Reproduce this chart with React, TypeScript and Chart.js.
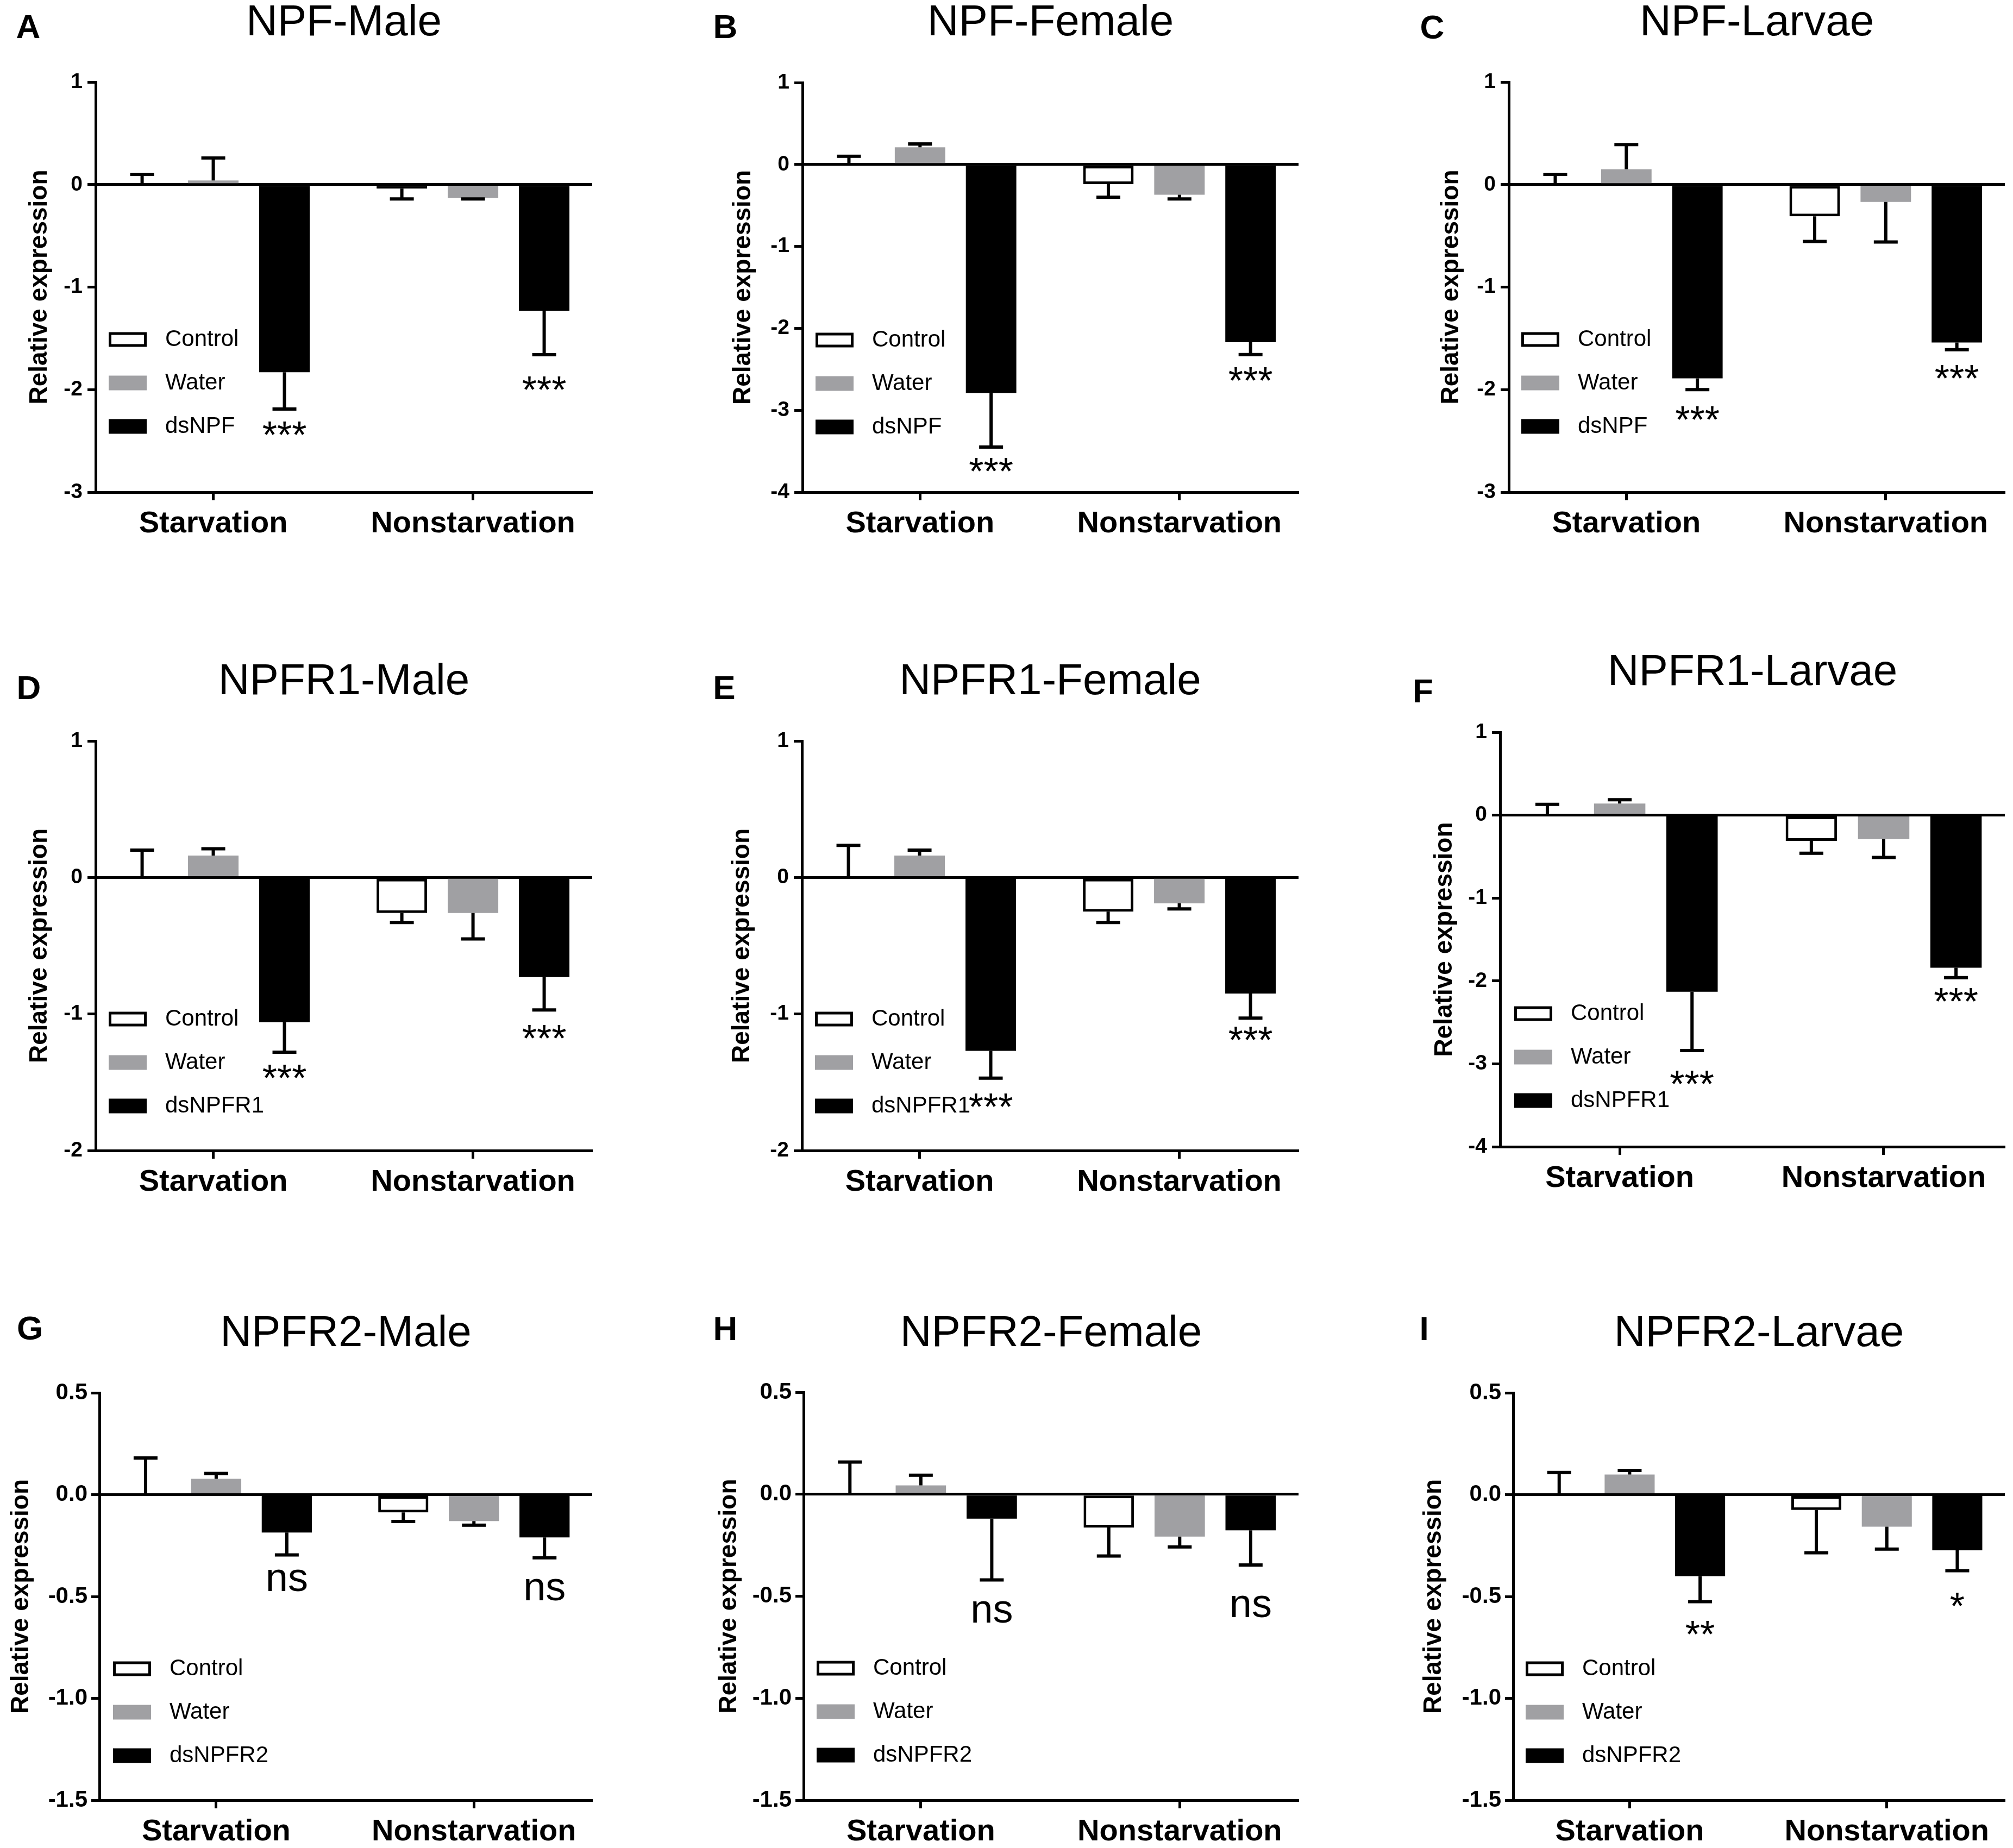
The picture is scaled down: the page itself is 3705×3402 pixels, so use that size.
import React, { useEffect, useRef } from 'react';
import { Chart, registerables, Plugin } from 'chart.js';

Chart.register(...registerables);

const FONT = "'Liberation Sans', Arial, Helvetica, sans-serif";
const GREY = '#a0a0a3';
const PANEL_W = 1100;

const categories = ['Starvation', 'Nonstarvation'];

// rows: Control, Water, dsRNA; columns: Starvation, Nonstarvation
const npfMaleMeans = [[0, -0.04], [0.04, -0.13], [-1.83, -1.23]];
const npfMaleErrors = [[0.1, 0.1], [0.22, 0.01], [0.36, 0.43]];
const npfMaleSig = ['***', '***'];
const npfMaleSigAt = [-2.47, -2.03];

const npfFemaleMeans = [[0, -0.24], [0.21, -0.37], [-2.79, -2.17]];
const npfFemaleErrors = [[0.1, 0.16], [0.04, 0.05], [0.66, 0.15]];
const npfFemaleSig = ['***', '***'];
const npfFemaleSigAt = [-3.78, -2.67];

const npfLarvaeMeans = [[0, -0.31], [0.15, -0.17], [-1.89, -1.54]];
const npfLarvaeErrors = [[0.1, 0.245], [0.24, 0.39], [0.11, 0.07]];
const npfLarvaeSig = ['***', '***'];
const npfLarvaeSigAt = [-2.32, -1.92];

const r1MaleMeans = [[0, -0.26], [0.16, -0.26], [-1.06, -0.73]];
const r1MaleErrors = [[0.2, 0.07], [0.05, 0.19], [0.22, 0.24]];
const r1MaleSig = ['***', '***'];
const r1MaleSigAt = [-1.49, -1.2];

const r1FemaleMeans = [[0, -0.25], [0.16, -0.19], [-1.27, -0.85]];
const r1FemaleErrors = [[0.235, 0.08], [0.04, 0.04], [0.2, 0.18]];
const r1FemaleSig = ['***', '***'];
const r1FemaleSigAt = [-1.7, -1.21];

const r1LarvaeMeans = [[0, -0.31], [0.14, -0.29], [-2.13, -1.84]];
const r1LarvaeErrors = [[0.13, 0.15], [0.045, 0.22], [0.71, 0.12]];
const r1LarvaeSig = ['***', '***'];
const r1LarvaeSigAt = [-3.28, -2.28];

const r2MaleMeans = [[0, -0.087], [0.078, -0.13], [-0.186, -0.21]];
const r2MaleErrors = [[0.18, 0.045], [0.026, 0.02], [0.11, 0.1]];
const r2MaleSig = ['ns', 'ns'];
const r2MaleSigAt = [-0.42, -0.465];

const r2FemaleMeans = [[0, -0.163], [0.043, -0.208], [-0.12, -0.177]];
const r2FemaleErrors = [[0.158, 0.14], [0.05, 0.05], [0.3, 0.17]];
const r2FemaleSig = ['ns', 'ns'];
const r2FemaleSigAt = [-0.575, -0.547];

const r2LarvaeMeans = [[0, -0.075], [0.099, -0.157], [-0.4, -0.273]];
const r2LarvaeErrors = [[0.109, 0.21], [0.02, 0.11], [0.125, 0.1]];
const r2LarvaeSig = ['**', '*'];
const r2LarvaeSigAt = [-0.7, -0.56];

const npfSeries = ['Control', 'Water', 'dsNPF'];
const r1Series = ['Control', 'Water', 'dsNPFR1'];
const r2Series = ['Control', 'Water', 'dsNPFR2'];

const yTicksBig = { min: -3, max: 1, step: 1 };
const yTicksFour = { min: -4, max: 1, step: 1 };
const yTicksTwo = { min: -2, max: 1, step: 1 };
const yTicksHalf = { min: -1.5, max: 0.5, step: 0.5 };

interface PanelSpec {
    letter: string;
    title: string;
    series: string[];
    means: number[][];
    errors: number[][];
    sig: string[];
    sigAt: number[];
    range: { min: number; max: number; step: number };
    left: number;
    top: number;
    height: number;
    axisX: number;
    plotTop: number;
    plotBottom: number;
    yTitleX: number;
    legendX: number;
    legendTop: number;
    letterX: number;
    letterY: number;
}

const panels: PanelSpec[] = [
    { letter: 'A', title: 'NPF-Male', series: npfSeries, means: npfMaleMeans, errors: npfMaleErrors, sig: npfMaleSig, sigAt: npfMaleSigAt, range: yTicksBig,
      left: 0, top: 0, height: 1010, axisX: 176, plotTop: 151, plotBottom: 906, yTitleX: 73, legendX: 24, legendTop: 474, letterX: 52, letterY: 53 },
    { letter: 'B', title: 'NPF-Female', series: npfSeries, means: npfFemaleMeans, errors: npfFemaleErrors, sig: npfFemaleSig, sigAt: npfFemaleSigAt, range: yTicksFour,
      left: 1300, top: 0, height: 1010, axisX: 177, plotTop: 152, plotBottom: 906, yTitleX: 68, legendX: 24, legendTop: 474, letterX: 35, letterY: 53 },
    { letter: 'C', title: 'NPF-Larvae', series: npfSeries, means: npfLarvaeMeans, errors: npfLarvaeErrors, sig: npfLarvaeSig, sigAt: npfLarvaeSigAt, range: yTicksBig,
      left: 2600, top: 0, height: 1010, axisX: 177, plotTop: 151, plotBottom: 906, yTitleX: 71, legendX: 23, legendTop: 474, letterX: 36, letterY: 54 },
    { letter: 'D', title: 'NPFR1-Male', series: r1Series, means: r1MaleMeans, errors: r1MaleErrors, sig: r1MaleSig, sigAt: r1MaleSigAt, range: yTicksTwo,
      left: 0, top: 1213, height: 1010, axisX: 176, plotTop: 151, plotBottom: 905, yTitleX: 73, legendX: 24, legendTop: 512, letterX: 53, letterY: 57 },
    { letter: 'E', title: 'NPFR1-Female', series: r1Series, means: r1FemaleMeans, errors: r1FemaleErrors, sig: r1FemaleSig, sigAt: r1FemaleSigAt, range: yTicksTwo,
      left: 1300, top: 1213, height: 1010, axisX: 176, plotTop: 151, plotBottom: 905, yTitleX: 66, legendX: 24, legendTop: 512, letterX: 33, letterY: 57 },
    { letter: 'F', title: 'NPFR1-Larvae', series: r1Series, means: r1LarvaeMeans, errors: r1LarvaeErrors, sig: r1LarvaeSig, sigAt: r1LarvaeSigAt, range: yTicksFour,
      left: 2600, top: 1196, height: 1030, axisX: 161, plotTop: 152, plotBottom: 915, yTitleX: 59, legendX: 26, legendTop: 518, letterX: 19, letterY: 80 },
    { letter: 'G', title: 'NPFR2-Male', series: r2Series, means: r2MaleMeans, errors: r2MaleErrors, sig: r2MaleSig, sigAt: r2MaleSigAt, range: yTicksHalf,
      left: 0, top: 2413, height: 989, axisX: 183, plotTop: 151, plotBottom: 901, yTitleX: 39, legendX: 25, legendTop: 508, letterX: 55, letterY: 36 },
    { letter: 'H', title: 'NPFR2-Female', series: r2Series, means: r2FemaleMeans, errors: r2FemaleErrors, sig: r2FemaleSig, sigAt: r2FemaleSigAt, range: yTicksHalf,
      left: 1300, top: 2413, height: 989, axisX: 179, plotTop: 150, plotBottom: 901, yTitleX: 42, legendX: 24, legendTop: 508, letterX: 35, letterY: 37 },
    { letter: 'I', title: 'NPFR2-Larvae', series: r2Series, means: r2LarvaeMeans, errors: r2LarvaeErrors, sig: r2LarvaeSig, sigAt: r2LarvaeSigAt, range: yTicksHalf,
      left: 2600, top: 2413, height: 989, axisX: 185, plotTop: 151, plotBottom: 901, yTitleX: 39, legendX: 23, legendTop: 508, letterX: 21, letterY: 37 },
];

const fills = ['#ffffff', GREY, '#000000'];

/**
 * One-sided error bars, pointing away from zero like in Prism.
 */
const errorBars: Plugin<'bar'> = {
    id: 'errorBars',
    afterDatasetsDraw(chart) {
        const errs = (chart.options.plugins as any).errorBars.errors as number[][];
        const y = chart.scales.y;
        const ctx = chart.ctx;
        ctx.save();
        ctx.strokeStyle = '#000';
        ctx.lineWidth = 6;
        chart.data.datasets.forEach((ds, i) => {
            chart.getDatasetMeta(i).data.forEach((bar, j) => {
                const v = ds.data[j] as number;
                const dir = v < 0 ? -1 : 1;
                const y0 = y.getPixelForValue(v);
                const y1 = y.getPixelForValue(v + dir * errs[i][j]);
                ctx.beginPath();
                ctx.moveTo(bar.x, y0);
                ctx.lineTo(bar.x, y1);
                ctx.moveTo(bar.x - 22, y1);
                ctx.lineTo(bar.x + 22, y1);
                ctx.stroke();
            });
        });
        ctx.restore();
    },
};

/**
 * Significance marks under the dsRNA bars.
 */
const sigMarks: Plugin<'bar'> = {
    id: 'sigMarks',
    afterDatasetsDraw(chart) {
        const { labels, at } = (chart.options.plugins as any).sigMarks;
        const y = chart.scales.y;
        const ctx = chart.ctx;
        const meta = chart.getDatasetMeta(2);
        ctx.save();
        ctx.fillStyle = '#000';
        ctx.textAlign = 'center';
        ctx.textBaseline = 'middle';
        meta.data.forEach((bar, j) => {
            ctx.font = labels[j] === 'ns' ? `74px ${FONT}` : `70px ${FONT}`;
            ctx.fillText(labels[j], bar.x, y.getPixelForValue(at[j]));
        });
        ctx.restore();
    },
};

/**
 * Legend inside the plot, lower left, plus the panel letter.
 */
const insideLegend: Plugin<'bar'> = {
    id: 'insideLegend',
    afterDraw(chart) {
        const { x, top, letter, letterX, letterY } = (chart.options.plugins as any).insideLegend;
        const ctx = chart.ctx;
        const area = chart.chartArea;
        ctx.save();
        chart.data.datasets.forEach((ds: any, i) => {
            const sx = area.left + x;
            const cy = area.top + top + i * 80;
            ctx.fillStyle = ds.backgroundColor;
            ctx.fillRect(sx, cy - 13.5, 70, 27);
            if (ds.borderWidth) {
                ctx.strokeStyle = '#000';
                ctx.lineWidth = 5;
                ctx.strokeRect(sx + 2.5, cy - 11, 65, 22);
            }
            ctx.fillStyle = '#000';
            ctx.font = `42px ${FONT}`;
            ctx.textAlign = 'left';
            ctx.textBaseline = 'middle';
            ctx.fillText(ds.label, sx + 104, cy);
        });
        ctx.font = `bold 62px ${FONT}`;
        ctx.textAlign = 'center';
        ctx.textBaseline = 'middle';
        ctx.fillText(letter, letterX, letterY);
        ctx.restore();
    },
};

const Panel: React.FC<{ p: PanelSpec }> = ({ p }) => {
    const canvas = useRef<HTMLCanvasElement>(null);

    useEffect(() => {
        const decimals = p.range.step < 1 ? 1 : 0;
        const chart = new Chart(canvas.current as HTMLCanvasElement, {
            type: 'bar',
            data: {
                labels: categories,
                datasets: p.series.map((name, i) => ({
                    label: name,
                    data: p.means[i],
                    backgroundColor: fills[i],
                    borderColor: '#000',
                    borderWidth: i === 0 ? 5 : 0,
                    borderSkipped: false,
                    categoryPercentage: 0.822,
                    barPercentage: 0.71,
                })),
            },
            options: {
                animation: false,
                responsive: false,
                devicePixelRatio: 1,
                layout: { padding: { left: 0, right: PANEL_W - 1090, top: 0, bottom: 0 } },
                scales: {
                    x: {
                        type: 'category',
                        offset: true,
                        grid: {
                            display: true,
                            drawOnChartArea: false,
                            offset: false,
                            tickLength: 15,
                            tickWidth: 5,
                            tickColor: '#000',
                            color: '#000',
                        },
                        border: { display: true, color: '#000', width: 5 },
                        ticks: {
                            color: '#000',
                            padding: 10,
                            maxRotation: 0,
                            minRotation: 0,
                            autoSkip: false,
                            font: { family: FONT, size: 56, weight: 'bold' },
                        },
                        afterBuildTicks: (s: any) => {
                            // Prism puts the two groups a little wider apart than an even split
                            s._startValue = -0.453;
                            s._valueRange = 1.912;
                        },
                        afterFit: (s) => {
                            s.height = p.height - p.plotBottom;
                        },
                    },
                    y: {
                        min: p.range.min,
                        max: p.range.max,
                        z: 1,
                        ticks: {
                            stepSize: p.range.step,
                            color: '#000',
                            padding: decimals ? 7 : 9,
                            font: { family: FONT, size: decimals ? 42 : 39, weight: 'bold' },
                            callback: (v) => Number(v).toFixed(decimals),
                        },
                        grid: {
                            drawOnChartArea: true,
                            color: (c) => (c.tick && Math.abs(c.tick.value) < 1e-9 ? '#000' : 'rgba(0,0,0,0)'),
                            lineWidth: 5,
                            tickColor: '#000',
                            tickLength: 15,
                            tickWidth: 5,
                        },
                        border: { display: true, color: '#000', width: 5 },
                        title: {
                            display: true,
                            text: 'Relative expression',
                            color: '#000',
                            font: { family: FONT, size: 46, weight: 'bold', lineHeight: 1.2 },
                            padding: { top: p.yTitleX - 27.6, bottom: 0 },
                        },
                        afterFit: (s) => {
                            s.width = p.axisX;
                        },
                    },
                },
                plugins: {
                    legend: { display: false },
                    tooltip: { enabled: false },
                    title: {
                        display: true,
                        text: p.title,
                        fullSize: false,
                        color: '#000',
                        font: { family: FONT, size: 80, weight: 'normal', lineHeight: 1 },
                        padding: { top: 3, bottom: p.plotTop - 83 },
                    },
                    errorBars: { errors: p.errors },
                    sigMarks: { labels: p.sig, at: p.sigAt },
                    insideLegend: { x: p.legendX, top: p.legendTop, letter: p.letter, letterX: p.letterX, letterY: p.letterY },
                } as any,
            },
            plugins: [errorBars, sigMarks, insideLegend],
        });
        return () => chart.destroy();
    }, [p]);

    return (
        <canvas
            ref={canvas}
            width={PANEL_W}
            height={p.height}
            style={{ position: 'absolute', left: p.left, top: p.top, width: PANEL_W, height: p.height }}
        ></canvas>
    );
};

export default function App() {
    return (
        <div style={{ position: 'absolute', left: 0, top: 0, width: 3705, height: 3402, background: '#fff' }}>
            {panels.map((p) => (
                <Panel key={p.letter} p={p} />
            ))}
        </div>
    );
}
